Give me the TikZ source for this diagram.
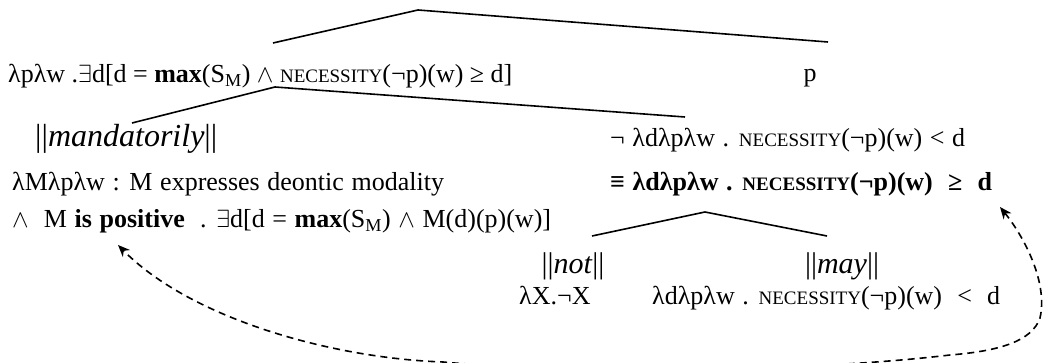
\documentclass[tikz,border=0pt]{standalone}
\usepackage{fontspec}
\setmainfont{Liberation Serif}
\usetikzlibrary{arrows.meta}
\newcommand\necsc{{\fontsize{19}{21}\selectfont NECESSITY}}
\newcommand\widesp{\spaceskip=7.6pt plus 2pt minus 1pt\relax}
\begin{document}
\begin{tikzpicture}[x=1pt,y=1pt,
  txt/.style={inner sep=0pt, anchor=base west, font=\fontsize{26}{30}\selectfont\widesp},
  bigtxt/.style={inner sep=0pt, anchor=base west, font=\fontsize{32}{36}\selectfont},
  midtxt/.style={inner sep=0pt, anchor=base, font=\fontsize{30}{34}\selectfont},
  branch/.style={line width=1.6pt},
  darrow/.style={line width=1.6pt, dash pattern=on 7pt off 5pt,
    {Stealth[length=12pt,width=10pt]}-{Stealth[length=12pt,width=10pt]}}]
\useasboundingbox (0,0) rectangle (1047,363);
% texts
\node[txt, font=\fontsize{26}{30}\selectfont] (l1) at (8,280) {λpλw .$\exists$d[d = \textbf{max}(S\textsubscript{M}) $\wedge$ \necsc(¬p)(w) ≥ d]};
\node[txt, anchor=base] (p) at (810,281) {p};
\node[bigtxt] (mand) at (35,216) {||\textit{mandatorily}||};
\node[txt] (neg) at (610,216) {¬ λdλpλw . \necsc(¬p)(w) < d};
\node[txt] (lamM) at (12,172) {λMλpλw : M expresses deontic modality};
\node[txt, font=\fontsize{26}{30}\selectfont\bfseries\widesp] (eqv) at (610,172) {≡ λdλpλw . \necsc(¬p)(w) \ ≥ \ d};
\node[txt] (pos) at (12,135) {$\wedge$\ \ M \textbf{is positive} \ . $\exists$d[d = \textbf{max}(S\textsubscript{M}) $\wedge$ M(d)(p)(w)]};
\node[midtxt] (not) at (573,89) {||\textit{not}||};
\node[midtxt] (may) at (842,89) {||\textit{may}||};
\node[txt] (lx) at (519,58) {λX.¬X};
\node[txt] (lmay) at (652,58) {λdλpλw . \necsc(¬p)(w) \ < \ d};
% tree branches
\coordinate (a1) at (418,353); \coordinate (a1l) at (273,320); \coordinate (a1r) at (828,321);
\coordinate (a2) at (275,276); \coordinate (a2l) at (132,240); \coordinate (a2r) at (685,246);
\coordinate (a3) at (705,151); \coordinate (a3l) at (592,127); \coordinate (a3r) at (827,127);
\draw[branch] (a1l) -- (a1) -- (a1r);
\draw[branch] (a2l) -- (a2) -- (a2r);
\draw[branch] (a3l) -- (a3) -- (a3r);
% dashed arrow
\coordinate (tipR) at (1000,156);
\coordinate (tipL) at (118,118);
\begin{scope}
\clip (0,0) rectangle (1047,363);
\draw[darrow] (tipR) .. controls (1025,125) and (1048,80) .. (1040,45)
  .. controls (1032,22) and (1000,12) .. (950,8)
  .. controls (800,-10) and (560,-10) .. (443,1)
  .. controls (330,5) and (190,45) .. (tipL);
\end{scope}
\end{tikzpicture}
\end{document}
